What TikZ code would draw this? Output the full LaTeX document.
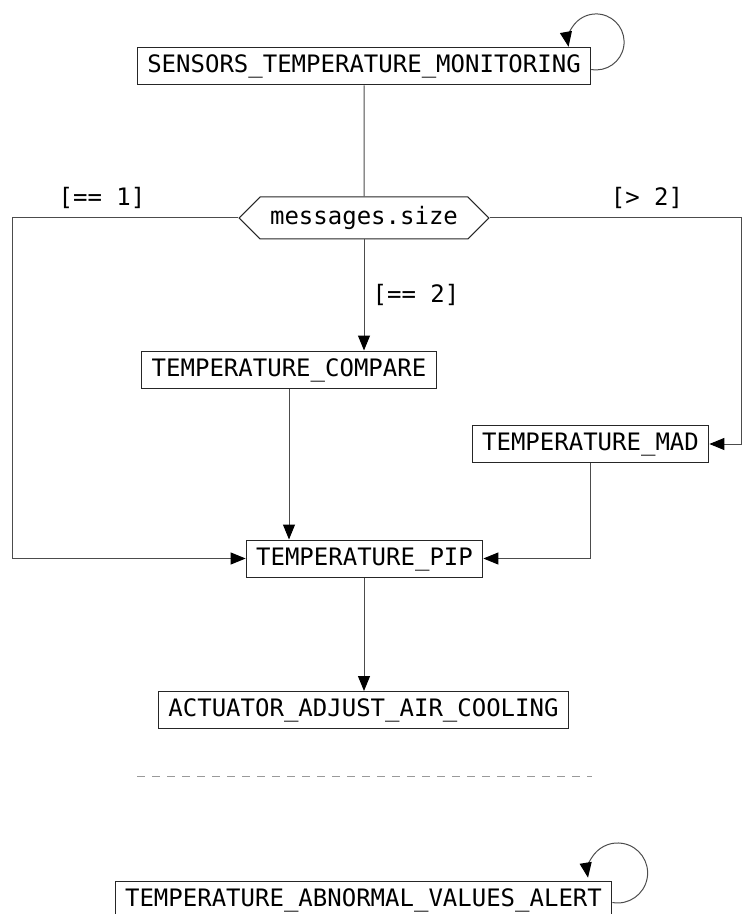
\documentclass[tikz,border=0pt]{standalone}
\usepackage{fontspec}
\setmonofont{DejaVu Sans Mono}
\usetikzlibrary{arrows.meta, shapes.symbols}

\tikzset{
    state/.style={draw=black!85, rectangle, inner xsep=5pt, inner ysep=3.5pt, text height=9pt, text depth=2.5pt},
    choice/.style={draw=black!85, signal, signal to=west and east, inner xsep=5pt, inner ysep=4.75pt, text height=9pt, text depth=2.5pt},
    guard/.style={text height=9pt, text depth=2.5pt},
    wire/.style={draw=black!70},
    flow/.style={wire, -{Triangle[length=7.5pt,width=6pt,color=black]}},
    separator/.style={draw=black!40, dash pattern=on 4pt off 3.5pt},
}

\begin{document}
\begin{tikzpicture}[x=0.5pt, y=-0.5pt, line width=0.5pt, font=\ttfamily\fontsize{12}{14}\selectfont]
    \useasboundingbox (0, 0) rectangle (742, 914);

    \node[state] at (364, 66.5) (sensors) {SENSORS\_TEMPERATURE\_MONITORING};
    \node[choice] at (364, 218) (size) {messages.size};
    \node[state] at (289, 369.5) (compare) {TEMPERATURE\_COMPARE};
    \node[state] at (590.5, 444) (mad) {TEMPERATURE\_MAD};
    \node[state] at (364.5, 558.5) (pip) {TEMPERATURE\_PIP};
    \node[state] at (363.5, 710) (actuator) {ACTUATOR\_ADJUST\_AIR\_COOLING};
    \node[state] at (363.5, 899.5) (alert) {TEMPERATURE\_ABNORMAL\_VALUES\_ALERT};

    \node[guard] at (102, 199) (one) {[== 1]};
    \node[guard] at (647, 199) (more) {[> 2]};
    \node[guard] at (416, 296) (two) {[== 2]};

    \coordinate (leftrail) at (12, 0);
    \coordinate (rightrail) at (741.5, 0);
    \coordinate (sepstart) at (137, 776);
    \coordinate (sepend) at (592, 776);

    \draw[wire] (sensors) -- (size);
    \draw[flow] (size.south) -- (size.south |- compare.north);
    \draw[flow] (size.west) -- (size.west -| leftrail) |- (pip.west);
    \draw[flow] (size.east) -- (size.east -| rightrail) |- (mad.east);
    \draw[flow] (compare.south) -- (compare.south |- pip.north);
    \draw[flow] (mad.south) |- (pip.east);
    \draw[flow] (sensors.south |- pip.south) -- (sensors.south |- actuator.north);

    % self loops
    \draw[flow] ([yshift=-1.5pt]sensors.east) arc[start angle=-100, end angle=190, radius=14pt];
    \draw[flow] ([yshift=-1.5pt]alert.east) arc[start angle=-100, end angle=189, radius=15pt];

    \draw[separator] (sepstart) -- (sepend);
\end{tikzpicture}
\end{document}
